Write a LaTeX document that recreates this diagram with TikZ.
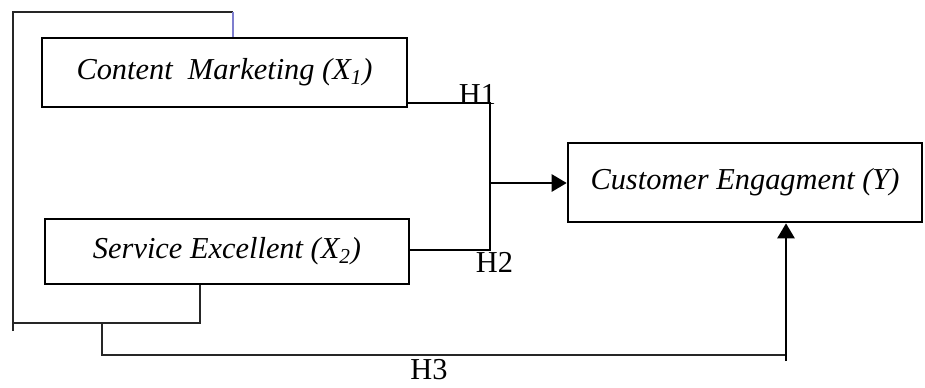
\documentclass[tikz,border=0pt]{standalone}
\usepackage{fontspec}
\setmainfont{Liberation Serif}
\usetikzlibrary{arrows.meta}
\def\boxfontsize{\fontsize{17.3pt}{20pt}\selectfont}
\tikzstyle{varbox}=[draw,line width=1.5pt,inner sep=0pt,font=\boxfontsize\itshape]
\tikzstyle{hlabel}=[inner sep=0pt,font=\boxfontsize]
\tikzstyle{link}=[draw,line width=1.5pt,-]
\tikzstyle{thinlink}=[draw,line width=0.75pt,-,black!85]
\tikzstyle{arrow}=[draw,line width=1.5pt,-{Triangle[length=0.3cm,width=0.34cm]}]
\begin{document}
\begin{tikzpicture}[x=0.02cm,y=-0.02cm]
  \useasboundingbox (0,0) rectangle (925,387);

  %  First we draw the variables
  \node[varbox,minimum width=7.3cm,minimum height=1.38cm] (x1) at (224.5,72.5) {Content\ \ Marketing (X\textsubscript{1})};
  \node[varbox,minimum width=7.28cm,minimum height=1.3cm] (x2) at (227,251.5) {Service Excellent (X\textsubscript{2})};
  \node[varbox,minimum width=7.08cm,minimum height=1.58cm] (y) at (745,182.5) {Customer Engagment (Y)};

  % Points where the lines turn
  \coordinate (h1) at (490,103);
  \coordinate (h2) at (490,250);
  \coordinate (hj) at (490,183);
  \coordinate (b1) at (200,323);
  \coordinate (b2) at (13,323);
  \coordinate (b3) at (13,331);
  \coordinate (b4) at (13,12);
  \coordinate (b5) at (233,12);
  \coordinate (c1) at (102,323);
  \coordinate (c2) at (102,355);
  \coordinate (c3) at (786,355);
  \coordinate (c4) at (786,361);

  % Connect X1 and X2 with Y
  \path[link] (x1.east |- h1) -- (h1) -- (h2) -- (x2.east |- h2);
  \path[arrow] (hj) -- (y.west |- hj);

  % Bracket round both variables
  \path[thinlink] (x2.south -| b1) -- (b1) -- (b2);
  \path[thinlink] (b3) -- (b4) -- (b5);
  \path[draw,line width=0.75pt,blue!45!gray!70] (b5) -- (x1.north -| b5);

  % Joint line to Y
  \path[thinlink] (c1) -- (c2) -- (c3);
  \path[arrow] (c4) -- (y.south -| c4);

  \node[hlabel] (l1) at (477.5,94) {H1};
  \node[hlabel] (l2) at (494.5,262) {H2};
  \node[hlabel] (l3) at (429,370) {H3};
\end{tikzpicture}
\end{document}
